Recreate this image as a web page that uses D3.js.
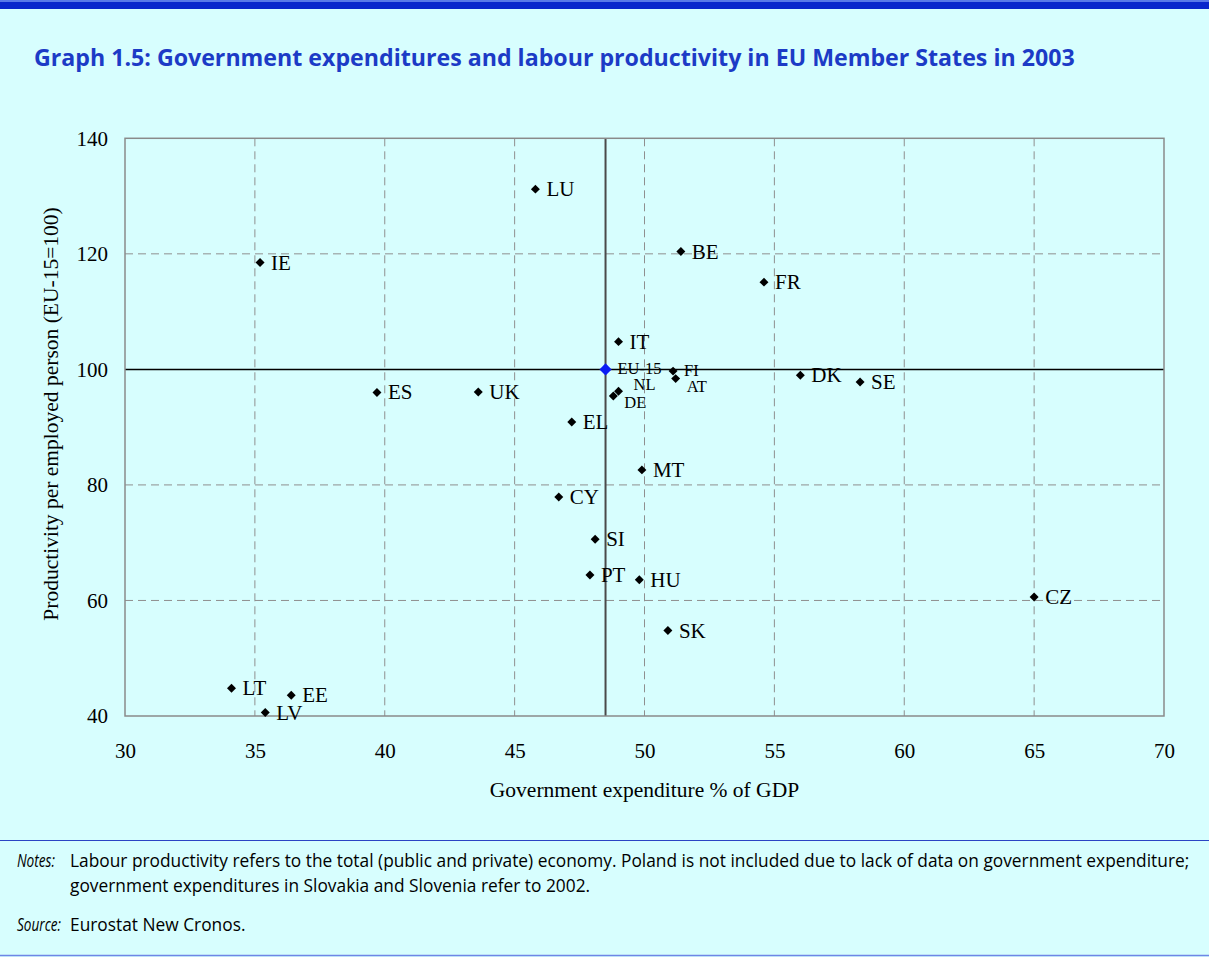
<!DOCTYPE html>
<html>
<head>
<meta charset="utf-8">
<script src="https://cdn.jsdelivr.net/npm/d3@7"></script>
<style>
  html, body { margin: 0; padding: 0; background: #d7fefe; }
  svg { display: block; }
</style>
</head>
<body>
<svg id="chart" width="1209" height="957"></svg>
<script>
// ---- data ----
const countries = ["LU","IE","BE","FR","IT","FI","AT","NL","DE","DK","SE","ES","UK","EL","MT","CY","SI","PT","HU","CZ","SK","LT","EE","LV"];
const govExpenditure = [45.8,35.2,51.4,54.6,49.0,51.1,51.2,49.0,48.8,56.0,58.3,39.7,43.6,47.2,49.9,46.7,48.1,47.9,49.8,65.0,50.9,34.1,36.4,35.4];
const productivity = [131.2,118.5,120.4,115.1,104.8,99.7,98.4,96.2,95.4,99.0,97.8,96.0,96.1,90.9,82.6,77.9,70.6,64.4,63.6,60.6,54.8,44.8,43.6,40.6];
const euName = "EU-15";
const euExpenditure = 48.5;
const euProductivity = 100;
const xTicks = [30,35,40,45,50,55,60,65,70];
const yTicks = [40,60,80,100,120,140];
const titleText = "Graph 1.5: Government expenditures and labour productivity in EU Member States in 2003";
const xTitle = "Government expenditure % of GDP";
const yTitle = "Productivity per employed person (EU-15=100)";
const notesLines = [
  "Labour productivity refers to the total (public and private) economy. Poland is not included due to lack of data on government expenditure;",
  "government expenditures in Slovakia and Slovenia refer to 2002."
];
const sourceText = "Eurostat New Cronos.";

// ---- layout ----
const svg = d3.select("#chart");
const W = 1209, H = 957;
const plot = {left: 125, right: 1164, top: 138.3, bottom: 716};
const serif = "'Liberation Serif','Times New Roman',serif";
const sans = "'Open Sans','Noto Sans',sans-serif";

svg.append("rect").attr("x",0).attr("y",0).attr("width",W).attr("height",H).attr("fill","#d7fefe");
svg.append("rect").attr("x",0).attr("y",0).attr("width",W).attr("height",2).attr("fill","#5a78e8");
svg.append("rect").attr("x",0).attr("y",2).attr("width",W).attr("height",7).attr("fill","#0a26cc");

// helper: text condensed/expanded horizontally to a target width
function fittedText(px, py, str, opts, targetWidth, forcedScale) {
  const gg = svg.append("g");
  const t = gg.append("text").attr("x", 0).attr("y", 0)
    .attr("font-family", opts.family).attr("font-size", opts.size)
    .attr("font-weight", opts.weight || "normal").attr("font-style", opts.style || "normal")
    .attr("fill", opts.fill || "#000").text(str);
  const w = t.node().getComputedTextLength();
  let s = forcedScale || (w > 0 && targetWidth ? targetWidth / w : 1);
  gg.attr("transform", `translate(${px},${py}) scale(${s},1)`);
  return s;
}

// title
fittedText(34, 66, titleText, {family: sans, size: 23, weight: "bold", fill: "#1c3bc6"}, 1041);

const x = d3.scaleLinear().domain([30,70]).range([plot.left, plot.right]);
const y = d3.scaleLinear().domain([40,140]).range([plot.bottom, plot.top]);

const g = svg.append("g");

// grid
g.selectAll("line.vgrid").data(xTicks.filter(t => t > 30 && t < 70)).join("line")
  .attr("x1", d => x(d)).attr("x2", d => x(d))
  .attr("y1", plot.top).attr("y2", plot.bottom)
  .attr("stroke", "#8f8f8f").attr("stroke-width", 1).attr("stroke-dasharray", "8,5");
g.selectAll("line.hgrid").data(yTicks.filter(t => t > 40 && t < 140 && t !== euProductivity)).join("line")
  .attr("x1", plot.left).attr("x2", plot.right)
  .attr("y1", d => y(d)).attr("y2", d => y(d))
  .attr("stroke", "#8f8f8f").attr("stroke-width", 1).attr("stroke-dasharray", "8,5");

// reference lines
g.append("line")
  .attr("x1", x(euExpenditure)).attr("x2", x(euExpenditure))
  .attr("y1", plot.top).attr("y2", plot.bottom)
  .attr("stroke", "#4a4a4a").attr("stroke-width", 2);
g.append("line")
  .attr("x1", plot.left).attr("x2", plot.right)
  .attr("y1", y(euProductivity)).attr("y2", y(euProductivity))
  .attr("stroke", "#000").attr("stroke-width", 1.5);

// frame
g.append("rect")
  .attr("x", plot.left).attr("y", plot.top)
  .attr("width", plot.right - plot.left).attr("height", plot.bottom - plot.top)
  .attr("fill", "none").attr("stroke", "#8a8a8a").attr("stroke-width", 1.5);

// axes
const xAxis = d3.axisBottom(x).tickValues(xTicks).tickSize(0).tickPadding(27).tickFormat(d3.format("d"));
const yAxis = d3.axisLeft(y).tickValues(yTicks).tickSize(0).tickPadding(17).tickFormat(d3.format("d"));
const xg = svg.append("g").attr("transform", `translate(0,${plot.bottom})`).call(xAxis);
const yg = svg.append("g").attr("transform", `translate(${plot.left},0)`).call(yAxis);
[xg, yg].forEach(a => {
  a.select(".domain").remove();
  a.selectAll("text").attr("font-family", serif).attr("font-size", 21).attr("fill", "#000");
});

// axis titles
svg.append("text")
  .attr("x", (plot.left + plot.right) / 2).attr("y", 797)
  .attr("text-anchor", "middle")
  .attr("font-family", serif).attr("font-size", 21.5).attr("fill", "#000")
  .text(xTitle);
svg.append("text")
  .attr("transform", `translate(58,414) rotate(-90)`)
  .attr("text-anchor", "middle")
  .attr("font-family", serif).attr("font-size", 21.5).attr("fill", "#000")
  .text(yTitle);

// points
const pts = countries.map((c, i) => ({name: c, gx: govExpenditure[i], py: productivity[i]}));
const smallLabels = new Set(["FI","AT","NL","DE"]);
const nudge = {NL: [15, -1], AT: [11, 13], DE: [11, 12], FI: [11, 5]};
const diamond = d3.symbol().type(d3.symbolSquare).size(40);

g.selectAll("path.pt").data(pts).join("path")
  .attr("d", diamond)
  .attr("transform", d => `translate(${x(d.gx)},${y(d.py)}) rotate(45)`)
  .attr("fill", "#000");

g.selectAll("text.lbl").data(pts).join("text")
  .attr("x", d => x(d.gx) + (nudge[d.name] ? nudge[d.name][0] : 11))
  .attr("y", d => y(d.py) + (nudge[d.name] ? nudge[d.name][1] : 7))
  .attr("font-family", serif)
  .attr("font-size", d => smallLabels.has(d.name) ? 16.5 : 21)
  .attr("fill", "#000")
  .text(d => d.name);

// EU-15 marker
g.append("path")
  .attr("d", d3.symbol().type(d3.symbolSquare).size(74)())
  .attr("transform", `translate(${x(euExpenditure)},${y(euProductivity)}) rotate(45)`)
  .attr("fill", "#0a1cf5");
g.append("text")
  .attr("x", x(euExpenditure) + 12).attr("y", y(euProductivity) + 5)
  .attr("font-family", serif).attr("font-size", 16.5).attr("fill", "#000")
  .text(euName);

// notes area
svg.append("line").attr("x1", 0).attr("x2", W).attr("y1", 840.5).attr("y2", 840.5)
  .attr("stroke", "#2b44c4").attr("stroke-width", 1);
svg.append("line").attr("x1", 0).attr("x2", W).attr("y1", 955.5).attr("y2", 955.5)
  .attr("stroke", "#6f86e6").attr("stroke-width", 1.5);

const noteOpts = {family: sans, size: 17.5};
const noteItalic = {family: sans, size: 17.5, style: "italic"};
fittedText(17, 867, "Notes:", noteItalic, 38);
const ns = fittedText(70, 867, notesLines[0], noteOpts, 1120);
fittedText(70, 892, notesLines[1], noteOpts, null, ns);
fittedText(17, 931, "Source:", noteItalic, 44);
fittedText(70, 931, sourceText, noteOpts, null, ns);
</script>
</body>
</html>
